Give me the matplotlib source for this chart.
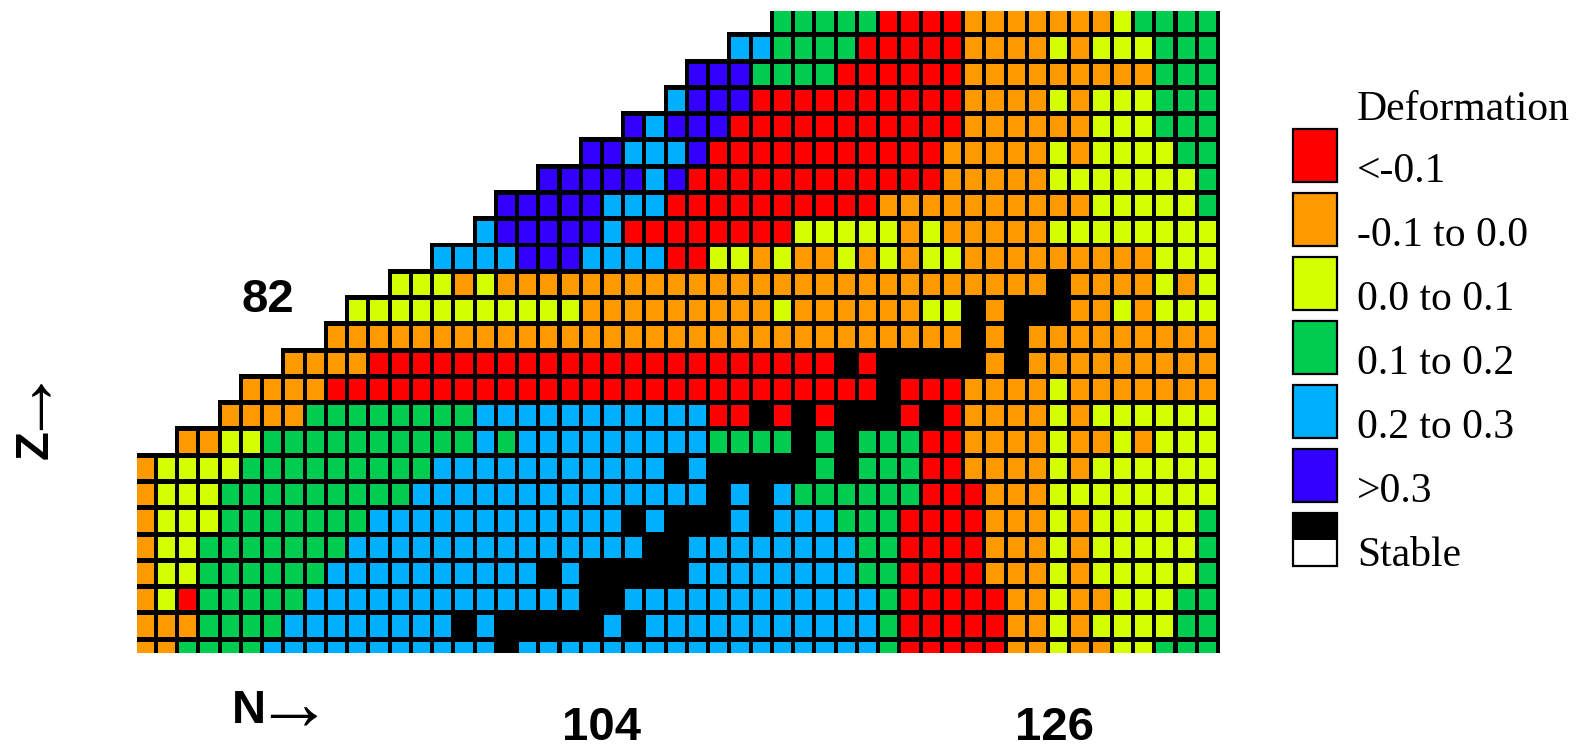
import matplotlib
matplotlib.use("Agg")
import matplotlib.pyplot as plt
from matplotlib.patches import Rectangle
from matplotlib.collections import PatchCollection

# Ground-state deformation class for each nucleus.
# One string per proton row (top row = highest Z), one character per neutron column.
# R: <-0.1  O: -0.1..0.0  Y: 0.0..0.1  G: 0.1..0.2  C: 0.2..0.3  P: >0.3  K: stable  .: none
rows = [
    ".......... .......... .......... GGGGGRRRRO OOOOOOYGGG G",
    ".......... .......... ........CC GGGGRRRRRO OOOYOYYYGG G",
    ".......... .......... ......PPPG GGGRRRRRRO OOOOOOOOGG G",
    ".......... .......... .....CPPPR RRRRRRRRRO OOOYOYYYGG G",
    ".......... .......... ...PCPPPRR RRRRRRRRRO OOOOOYYYGG G",
    ".......... .......... .PPCCCPRRR RRRRRRRROO OOOYOYYYYG G",
    ".......... .........P PPPPCPRRRR RRRRRRRROO OOOYYYYYYY G",
    ".......... .......PPP PPCCCRRRRR RRRRROOOOO OOOOOYYYYY G",
    ".......... ......CPPP PPCRRRRRRR RYYYYYOYOO OOOYYYYYYY Y",
    ".......... ....CCCCPP PCCCCRRYYO YOOYOYOYYO OOOOOOOOYY Y",
    ".......... ..YYYOYOOO OOOOOOOOOO OOOOOOOOOO OOOKOOOOYO Y",
    ".......... YYYYYYYYYY YOOOOOOOOO YOOOOOOYYK OKKKOOYOYY Y",
    ".........O OOOOOOOOOO OOOOOOOOOO OOOOOOOOOK OKOOOOOOOO O",
    ".......OOO ORRRRRRRRR RRRRRRRRRR RRRKRKKKKK OKOOOOOOOO O",
    ".....OOOOR RRRRRRRRRR RRRRRRRRRR RRRRRKRRRO OOOYOOOOOO O",
    "....OOOOGG GGGGGGCCCC CCCCCCCRRK RKRKKKRKRO OOOYOYYYYY Y",
    "..OOYYGGGG GGGGGGCGCC CCCCCCCGGG GKGKGGGRRO OOOYOOYOYY Y",
    "OYYYYGGGGG GGGGCCCCCC CCCCCKCKKK KKGKGGGRRO OOOYOYYYYY Y",
    "OYYYGGGGGG GGGCCCCCCC CCCCCCCKCK CGGGGGGRRR OOOYYYYYYY Y",
    "OYYYGGGGGG GCCCCCCCCC CCCKCKKKCK CCCGGGRRRR OOOYOYYYYY G",
    "OYYGGGGGGG CCCCCCCCCC CCCCKKCCCC CCCCGGRRRR OOOYOYYYYY G",
    "OYYGGGGGGC CCCCCCCCCK CKKKKKCCCC CCCCGGRRRR OOOYOYYYYY G",
    "OYRGGGGGCC CCCCCCCCCC CKKCCCCCCC CCCCCGRRRR ROOYOOYYYG G",
    "OOOGGGGCCC CCCCCKCKKK KKCKCCCCCC CCCCCGRRRR ROOYOYYYYG G",
    "OOGGGGCCCC CCCCCCCKCC CCCCCCCCCC CCCCCGRRRR ROOYOOYYGG G",
]
rows = [r.replace(" ", "") for r in rows]

categories = ["R", "O", "Y", "G", "C", "P", "K"]
colors = ["#ff0000", "#ff9900", "#d4ff00", "#00cc50", "#00b0ff", "#3300ff", "#000000"]
labels = ["<-0.1", "-0.1 to 0.0", "0.0 to 0.1", "0.1 to 0.2", "0.2 to 0.3", ">0.3", "Stable"]
color_of = dict(zip(categories, colors))

W, H = 1583, 747
fig = plt.figure(figsize=(W / 100, H / 100), dpi=100)

# chart area (the chart is a cut-out, so the outer rows/columns run off the edges)
ax = fig.add_axes([136.7 / W, 1 - 652.7 / H, (1220 - 136.7) / W, (652.7 - 11) / H])
ax.set_xlim(0, 51)
ax.set_ylim(24.42, 0)
ax.axis("off")

gap = 0.19  # black frame width as a fraction of one cell
frames, fills, fill_colors = [], [], []
for r, row in enumerate(rows):
    for c, code in enumerate(row):
        if code == ".":
            continue
        frames.append(Rectangle((c - gap, r - gap), 1 + gap, 1 + gap))
        fills.append(Rectangle((c, r), 1 - gap, 1 - gap))
        fill_colors.append(color_of[code])

ax.add_collection(PatchCollection(frames, facecolor="black", edgecolor="none", linewidth=0))
ax.add_collection(PatchCollection(fills, facecolor=fill_colors, edgecolor="none", linewidth=0))

# overlay in pixel units for labels and the legend
ov = fig.add_axes([0, 0, 1, 1])
ov.set_xlim(0, W)
ov.set_ylim(H, 0)
ov.axis("off")
ov.patch.set_visible(False)

bold = dict(family="Liberation Sans", fontweight="bold", fontsize=34, color="black")
arrow_font = dict(family=["Liberation Serif", "DejaVu Sans"], fontsize=56, color="black")

ov.text(268, 312, "82", ha="center", va="baseline", **bold)
ov.text(602, 740, "104", ha="center", va="baseline", **bold)
ov.text(1055, 740, "126", ha="center", va="baseline", **bold)

ov.text(232, 723, "N", ha="left", va="baseline", **bold)
ov.text(254, 729, "\u2192", ha="left", va="baseline", **arrow_font)

ov.text(48, 445, "Z", ha="center", va="baseline", rotation=90, rotation_mode="anchor", **bold)
ov.text(40, 391, "\u2192", ha="center", va="baseline", rotation=90, rotation_mode="anchor",
        **arrow_font)

# legend
serif = dict(family="Liberation Serif", fontsize=30, color="black")
ov.text(1357, 120, "Deformation", ha="left", va="baseline", **serif)
sw_x, sw_w, sw_h, sw_top, sw_step = 1293, 44, 53, 129, 64
for i, (code, lab) in enumerate(zip(categories, labels)):
    top = sw_top + i * sw_step
    if code == "K":
        ov.add_patch(Rectangle((sw_x, top), sw_w, sw_h / 2, facecolor="black", edgecolor="none"))
        ov.add_patch(Rectangle((sw_x, top), sw_w, sw_h, facecolor="none", edgecolor="black",
                               linewidth=1.6))
    else:
        ov.add_patch(Rectangle((sw_x, top), sw_w, sw_h, facecolor=color_of[code],
                               edgecolor="black", linewidth=1.6))
    ov.text(1357, top + sw_h, lab, ha="left", va="baseline", **serif)

fig.savefig("out.png", dpi=100, facecolor="white")
